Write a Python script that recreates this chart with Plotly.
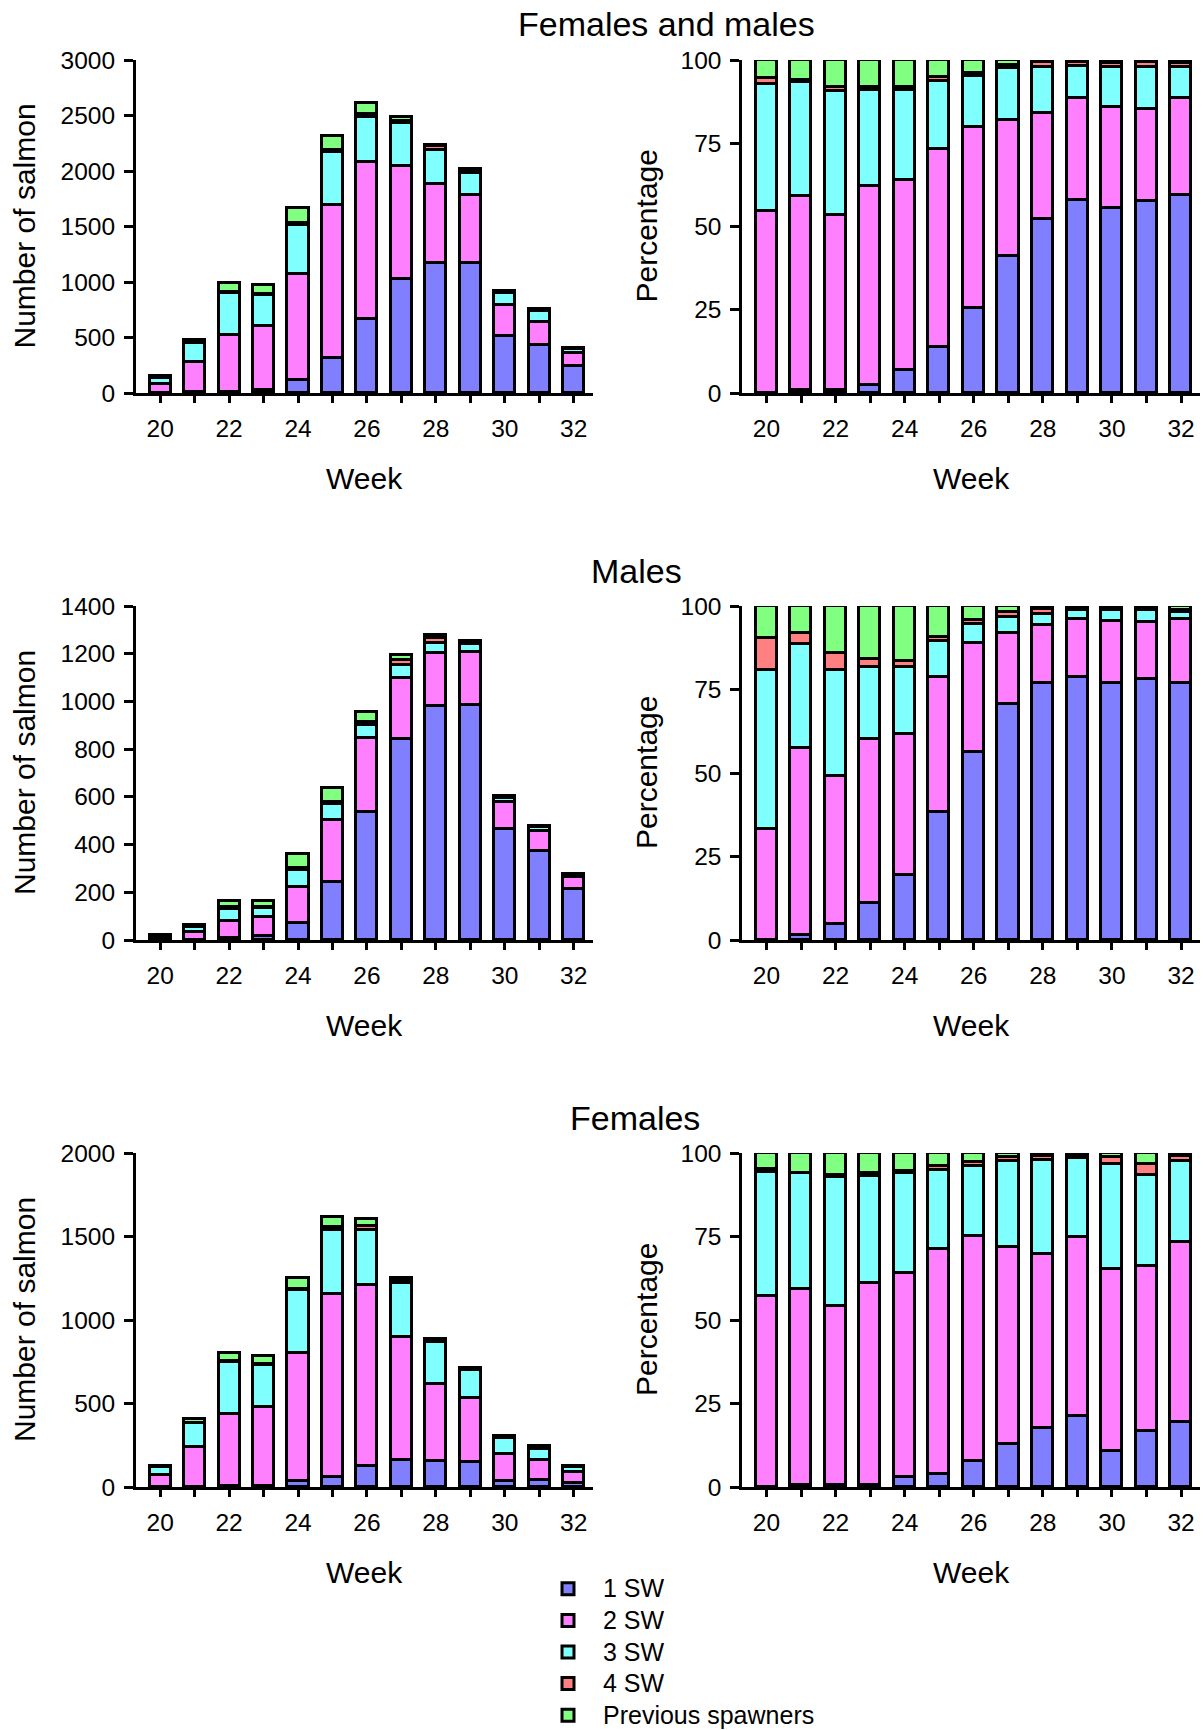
import plotly.graph_objects as go

# ---------------- data ----------------
weeks = list(range(20, 33))
week_labels = [str(w) if w % 2 == 0 else "" for w in weeks]
categories = ["1 SW", "2 SW", "3 SW", "4 SW", "Previous spawners"]
colors = ["#8080FF", "#FF80FF", "#80FFFF", "#FF8080", "#80FF80"]

# Females and males (number of salmon per week)
fm_1sw = [0, 5, 8, 24, 117, 317, 670, 1024, 1172, 1170, 511, 434, 240]
fm_2sw = [82, 278, 519, 580, 951, 1378, 1415, 1019, 707, 618, 281, 210, 118]
fm_3sw = [57, 165, 370, 280, 450, 473, 400, 386, 309, 198, 112, 94, 38]
fm_4sw = [3, 2, 12, 10, 17, 23, 30, 25, 38, 24, 11, 11, 4]
fm_prev = [8, 29, 79, 78, 133, 120, 99, 37, 11, 11, 7, 5, 4]

# Males
m_1sw = [0, 1, 8, 18, 70, 245, 537, 844, 982, 987, 465, 374, 212]
m_2sw = [7, 34, 72, 80, 151, 258, 311, 253, 222, 219, 113, 82, 52]
m_3sw = [10, 19, 52, 35, 72, 68, 54, 56, 42, 33, 19, 17, 6]
m_4sw = [2, 2, 8, 4, 7, 8, 11, 20, 19, 9, 4, 3, 2]
m_prev = [2, 5, 23, 26, 59, 59, 41, 21, 13, 6, 4, 3, 3]

# Females
f_1sw = [0, 2, 4, 5, 38, 62, 125, 160, 158, 152, 33, 41, 24]
f_2sw = [71, 240, 432, 475, 763, 1091, 1082, 738, 460, 383, 166, 121, 67]
f_3sw = [46, 142, 310, 251, 376, 385, 334, 323, 251, 168, 96, 67, 30]
f_4sw = [1, 0, 6, 5, 9, 16, 21, 15, 9, 6, 6, 8, 2]
f_prev = [6, 25, 52, 48, 66, 65, 43, 16, 9, 5, 4, 8, 1]

groups = [
    ("Females and males", [fm_1sw, fm_2sw, fm_3sw, fm_4sw, fm_prev], 3000, 500),
    ("Males", [m_1sw, m_2sw, m_3sw, m_4sw, m_prev], 1400, 200),
    ("Females", [f_1sw, f_2sw, f_3sw, f_4sw, f_prev], 2000, 500),
]
pct_ticks = [0, 25, 50, 75, 100]

# ---------------- layout geometry ----------------
W, H = 1203, 1730
FONT = "Liberation Sans, Arial, Helvetica, sans-serif"
row_px = [(60, 393), (606, 940), (1153, 1487)]      # top, bottom of plot areas
col_px = [(136, 592.7), (742.3, 1200)]               # left, right of plot areas
title_pos = [(666, 24), (636, 571), (635, 1118)]
week_title_y = [478, 1025, 1572]
xrange_ = [19.3, 32.55]

def px_x(v):
    return v / W

def px_y(v):
    return 1 - v / H

fig = go.Figure()
layout = {}
annotations = []

ax = 0
for r, (gname, series, ymax, ystep) in enumerate(groups):
    totals = [sum(vals) for vals in zip(*series)]
    for c in range(2):
        ax += 1
        xa = "x" if ax == 1 else f"x{ax}"
        ya = "y" if ax == 1 else f"y{ax}"
        for k, (cat, col, vals) in enumerate(zip(categories, colors, series)):
            if c == 0:
                yv = vals
            else:
                yv = [100.0 * v / t if t else 0 for v, t in zip(vals, totals)]
            fig.add_trace(go.Bar(
                x=weeks, y=yv,
                name=f"<span style='font-size:25px'>{cat}</span>",
                xaxis=xa, yaxis=ya,
                width=0.61,
                marker=dict(color=col, line=dict(color="black", width=3)),
                legendgroup=cat, showlegend=(ax == 1),
            ))
        top, bot = row_px[r]
        left, right = col_px[c]
        if c == 0:
            yr = [0, ymax]
            ytv = list(range(0, ymax + 1, ystep))
        else:
            yr = [0, 100]
            ytv = pct_ticks
        xkey = "xaxis" if ax == 1 else f"xaxis{ax}"
        ykey = "yaxis" if ax == 1 else f"yaxis{ax}"
        layout[xkey] = dict(
            domain=[px_x(left), px_x(right)], anchor=ya, range=xrange_,
            tickmode="array", tickvals=weeks, ticktext=week_labels,
            ticks="outside", ticklen=7, tickwidth=3, tickcolor="black",
            showline=True, linewidth=3, linecolor="black",
            showgrid=False, zeroline=False,
            tickfont=dict(family=FONT, size=24.5, color="black"),
            ticklabelstandoff=5,
        )
        layout[ykey] = dict(
            domain=[px_y(bot), px_y(top)], anchor=xa, range=yr,
            tickmode="array", tickvals=ytv,
            ticks="outside", ticklen=9, tickwidth=3, tickcolor="black",
            showline=True, linewidth=3, linecolor="black",
            showgrid=False, zeroline=False,
            tickfont=dict(family=FONT, size=24.5, color="black"),
            ticklabelstandoff=4,
        )
        # overlay axis to give the y ticks an inside half (crossing ticks)
        ov = 6 + ax
        layout[f"yaxis{ov}"] = dict(
            domain=[px_y(bot), px_y(top)], anchor=xa, overlaying=ya, side="left",
            range=yr, tickmode="array", tickvals=ytv,
            ticks="inside", ticklen=9, tickwidth=3, tickcolor="black",
            showline=False, showgrid=False, zeroline=False, showticklabels=False,
        )
        # axis titles
        annotations.append(dict(
            text="Week", x=px_x((left + right) / 2), y=px_y(week_title_y[r]),
            xref="paper", yref="paper", showarrow=False,
            xanchor="center", yanchor="middle",
            font=dict(family=FONT, size=30, color="black"),
        ))
        annotations.append(dict(
            text="Number of salmon" if c == 0 else "Percentage",
            x=px_x(24 if c == 0 else 646), y=px_y((top + bot) / 2),
            xref="paper", yref="paper", showarrow=False, textangle=-90,
            xanchor="center", yanchor="middle",
            font=dict(family=FONT, size=30, color="black"),
        ))
    tx, ty = title_pos[r]
    annotations.append(dict(
        text=gname, x=px_x(tx), y=px_y(ty), xref="paper", yref="paper",
        showarrow=False, xanchor="center", yanchor="middle",
        font=dict(family=FONT, size=34, color="black"),
    ))

fig.update_layout(
    width=W, height=H,
    margin=dict(l=0, r=0, t=0, b=0, autoexpand=False),
    paper_bgcolor="white", plot_bgcolor="white",
    barmode="stack", bargap=0,
    font=dict(family=FONT, color="black"),
    showlegend=True,
    legend=dict(
        x=px_x(533), y=px_y(1568), xanchor="left", yanchor="top",
        font=dict(family=FONT, size=22, color="black"),
        bgcolor="rgba(0,0,0,0)", traceorder="normal",
        itemwidth=60, tracegroupgap=0,
    ),
    annotations=annotations,
    **layout,
)

fig.write_html("out.html", config={"displayModeBar": False},
               post_script="document.body.style.margin='0px';")
